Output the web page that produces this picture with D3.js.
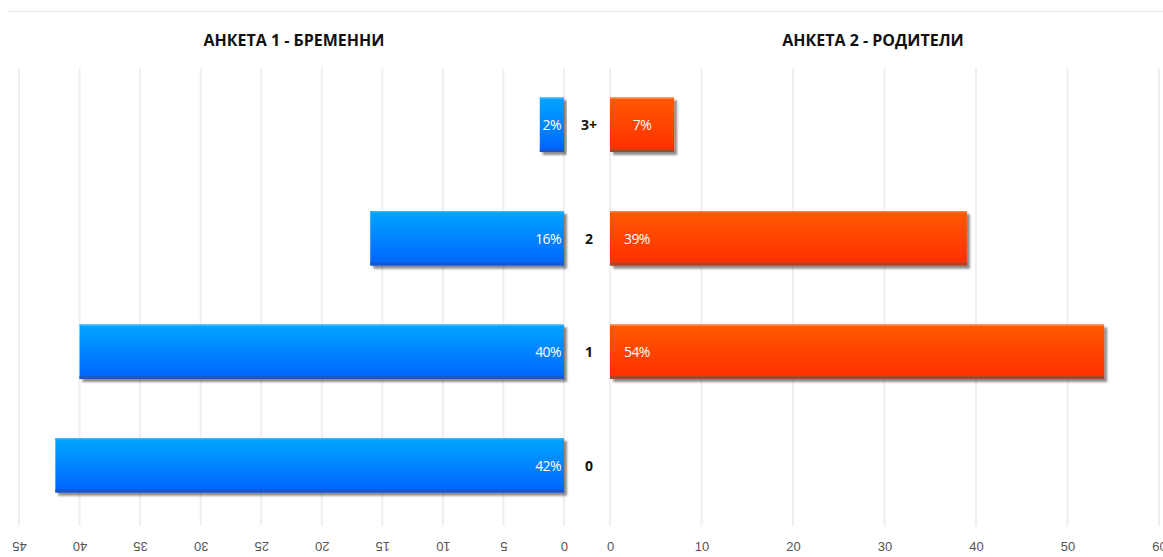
<!DOCTYPE html>
<html>
<head>
<meta charset="utf-8">
<script src="https://cdn.jsdelivr.net/npm/d3@7"></script>
<style>
  html, body { margin: 0; padding: 0; background: #fff; }
  svg { display: block; font-family: "Open Sans", "DejaVu Sans", sans-serif; }
</style>
</head>
<body>
<svg id="chart" width="1163" height="557"></svg>
<script>
// Number of children, two surveys
const categories = ["3+", "2", "1", "0"];
const survey1Values = [2, 16, 40, 42];      // Анкета 1 - бременни (%)
const survey2Values = [7, 39, 54, null];    // Анкета 2 - родители (%)
const survey1Ticks = [0, 5, 10, 15, 20, 25, 30, 35, 40, 45];
const survey2Ticks = [0, 10, 20, 30, 40, 50, 60];
const titles = ["АНКЕТА 1 - БРЕМЕННИ", "АНКЕТА 2 - РОДИТЕЛИ"];

const svg = d3.select("#chart");
const defs = svg.append("defs");

function gradient(id, top, bottom) {
  const g = defs.append("linearGradient").attr("id", id)
    .attr("x1", 0).attr("y1", 0).attr("x2", 0).attr("y2", 1);
  g.append("stop").attr("offset", "0%").attr("stop-color", top);
  g.append("stop").attr("offset", "100%").attr("stop-color", bottom);
}
gradient("gBlue", "#00a6ff", "#0062ff");
gradient("gOrange", "#ff5a00", "#ff2e00");

const shadow = defs.append("filter").attr("id", "shadow")
  .attr("x", "-5%").attr("y", "-10%").attr("width", "115%").attr("height", "130%");
shadow.append("feGaussianBlur").attr("in", "SourceAlpha").attr("stdDeviation", 1.2).attr("result", "b");
shadow.append("feOffset").attr("in", "b").attr("dx", 2.5).attr("dy", 2.5).attr("result", "o");
shadow.append("feComponentTransfer").attr("in", "o").attr("result", "s")
  .append("feFuncA").attr("type", "linear").attr("slope", 0.45);
const merge = shadow.append("feMerge");
merge.append("feMergeNode").attr("in", "s");
merge.append("feMergeNode").attr("in", "SourceGraphic");

// top rule
svg.append("line").attr("x1", 8).attr("x2", 1163).attr("y1", 11.5).attr("y2", 11.5)
  .attr("stroke", "#ebebeb").attr("stroke-width", 1.5);

const y = d3.scaleBand().domain(categories).range([68, 522]).paddingInner(0.52).paddingOuter(0.26);
const xL = d3.scaleLinear().domain([0, 45]).range([564, 19]);
const xR = d3.scaleLinear().domain([0, 60]).range([610, 1159]);
const gridTop = 68, gridBottom = 526;

// gridlines
svg.append("g").selectAll("line").data(survey1Ticks).join("line")
  .attr("x1", d => xL(d)).attr("x2", d => xL(d)).attr("y1", gridTop).attr("y2", gridBottom)
  .attr("stroke", "#efefef").attr("stroke-width", 2);
svg.append("g").selectAll("line").data(survey2Ticks).join("line")
  .attr("x1", d => xR(d)).attr("x2", d => xR(d)).attr("y1", gridTop).attr("y2", gridBottom)
  .attr("stroke", "#efefef").attr("stroke-width", 2);

// axes
const axisL = svg.append("g").attr("transform", `translate(0,${gridBottom})`)
  .call(d3.axisBottom(xL).tickValues(survey1Ticks).tickSize(0).tickPadding(0));
axisL.select(".domain").remove();
axisL.selectAll("text")
  .attr("dy", null).attr("y", 0)
  .attr("text-anchor", "middle").attr("dominant-baseline", "central")
  .attr("transform", "translate(0,20) rotate(180)")
  .attr("fill", "#555").style("font-size", "13px");

const axisR = svg.append("g").attr("transform", `translate(0,${gridBottom})`)
  .call(d3.axisBottom(xR).tickValues(survey2Ticks).tickSize(0).tickPadding(0));
axisR.select(".domain").remove();
axisR.selectAll("text")
  .attr("dy", null).attr("y", 20)
  .attr("text-anchor", "middle").attr("dominant-baseline", "central")
  .attr("fill", "#555").style("font-size", "13px");

// titles
svg.append("text").attr("x", 294).attr("y", 40).attr("text-anchor", "middle")
  .attr("dominant-baseline", "central").attr("font-weight", "bold").attr("font-size", 16)
  .attr("fill", "#111").text(titles[0]);
svg.append("text").attr("x", 873).attr("y", 40).attr("text-anchor", "middle")
  .attr("dominant-baseline", "central").attr("font-weight", "bold").attr("font-size", 16)
  .attr("fill", "#111").text(titles[1]);

const h = y.bandwidth();
const left = categories.map((c, i) => ({ c, v: survey1Values[i] }));
const right = categories.map((c, i) => ({ c, v: survey2Values[i] })).filter(d => d.v != null);

// survey 1 bars (grow to the left)
const gl = svg.append("g").selectAll("g").data(left).join("g").attr("filter", "url(#shadow)");
gl.append("rect").attr("x", d => xL(d.v)).attr("y", d => y(d.c))
  .attr("width", d => xL(0) - xL(d.v)).attr("height", h).attr("fill", "url(#gBlue)");
gl.append("rect").attr("x", d => xL(d.v)).attr("y", d => y(d.c) + h - 3)
  .attr("width", d => xL(0) - xL(d.v)).attr("height", 3).attr("fill", "#1f56c8");
gl.append("rect").attr("x", d => xL(d.v)).attr("y", d => y(d.c))
  .attr("width", d => xL(0) - xL(d.v)).attr("height", 1.5).attr("fill", "#3ab4ff");

// survey 2 bars (grow to the right)
const gr = svg.append("g").selectAll("g").data(right).join("g").attr("filter", "url(#shadow)");
gr.append("rect").attr("x", xR(0)).attr("y", d => y(d.c))
  .attr("width", d => xR(d.v) - xR(0)).attr("height", h).attr("fill", "url(#gOrange)");
gr.append("rect").attr("x", xR(0)).attr("y", d => y(d.c) + h - 3)
  .attr("width", d => xR(d.v) - xR(0)).attr("height", 3).attr("fill", "#a8442a");
gr.append("rect").attr("x", xR(0)).attr("y", d => y(d.c))
  .attr("width", d => xR(d.v) - xR(0)).attr("height", 1.5).attr("fill", "#ff8040");

// value labels
svg.append("g").selectAll("text").data(left).join("text")
  .attr("x", xL(0) - 3).attr("y", d => y(d.c) + h / 2)
  .attr("text-anchor", "end").attr("dominant-baseline", "central")
  .attr("fill", "#fff").attr("font-size", 14).attr("letter-spacing", -0.6)
  .text(d => d.v + "%");
svg.append("g").selectAll("text").data(right).join("text")
  .attr("x", d => (xR(d.v) - xR(0)) < 80 ? (xR(0) + xR(d.v)) / 2 : xR(0) + 14)
  .attr("y", d => y(d.c) + h / 2)
  .attr("text-anchor", d => (xR(d.v) - xR(0)) < 80 ? "middle" : "start")
  .attr("dominant-baseline", "central")
  .attr("fill", "#fff").attr("font-size", 14).attr("letter-spacing", -0.6)
  .text(d => d.v + "%");

// category labels between the panels
svg.append("g").selectAll("text").data(categories).join("text")
  .attr("x", 589).attr("y", d => y(d) + h / 2)
  .attr("text-anchor", "middle").attr("dominant-baseline", "central")
  .attr("font-weight", "bold").attr("font-size", 14).attr("fill", "#111")
  .text(d => d);
</script>
</body>
</html>
